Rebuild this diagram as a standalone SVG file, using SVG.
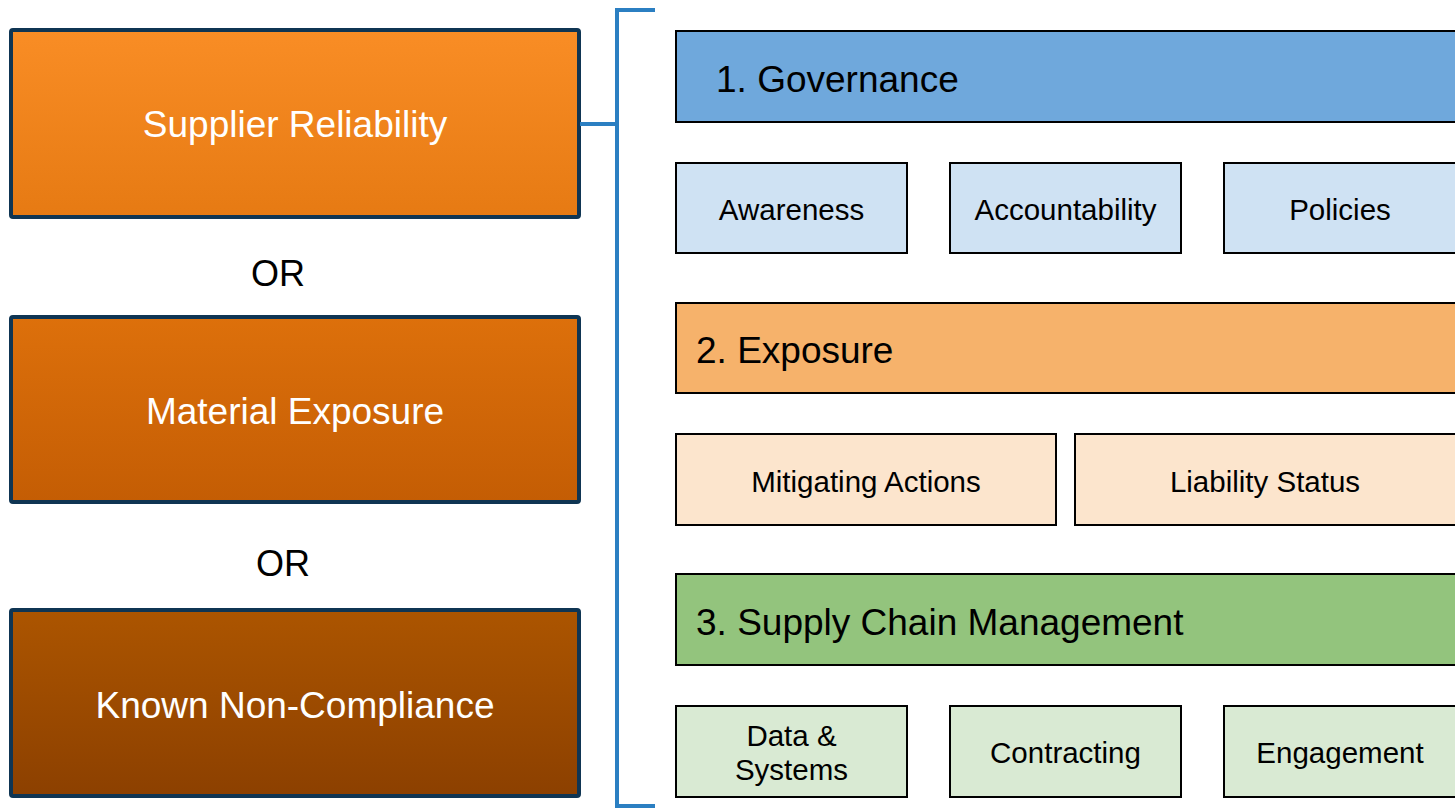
<svg xmlns="http://www.w3.org/2000/svg" width="1455" height="808" viewBox="0 0 1455 808">
<defs>
<linearGradient id="g1" x1="0" y1="0" x2="0" y2="1"><stop offset="0" stop-color="#f98d25"/><stop offset="1" stop-color="#e67a13"/></linearGradient>
<linearGradient id="g2" x1="0" y1="0" x2="0" y2="1"><stop offset="0" stop-color="#dd700b"/><stop offset="1" stop-color="#c45d04"/></linearGradient>
<linearGradient id="g3" x1="0" y1="0" x2="0" y2="1"><stop offset="0" stop-color="#ac5500"/><stop offset="1" stop-color="#8c4000"/></linearGradient>
<style>
text{font-family:"Liberation Sans",Arial,sans-serif;text-anchor:middle}
.lb{stroke:#0f3553;stroke-width:4}
.lt{fill:#fff;font-size:37px}
.or{fill:#000;font-size:36px}
.h rect,.s rect{stroke:#000;stroke-width:2}
.h text{font-size:37px;fill:#000;text-anchor:start}
.s text{font-size:29.5px;fill:#000}
.br{fill:none;stroke:#2b7fc2;stroke-width:4}
</style>
</defs>
<rect width="1455" height="808" fill="#fff"/>
<g id="supplier-reliability"><rect class="lb" x="11" y="30" width="568" height="187" rx="2" fill="url(#g1)"/><text class="lt" x="295" y="137">Supplier Reliability</text></g>
<g id="or1"><text class="or" x="278" y="286">OR</text></g>
<g id="material-exposure"><rect class="lb" x="11" y="317" width="568" height="185" rx="2" fill="url(#g2)"/><text class="lt" x="295" y="424">Material Exposure</text></g>
<g id="or2"><text class="or" x="283" y="576">OR</text></g>
<g id="known-non-compliance"><rect class="lb" x="11" y="610" width="568" height="186" rx="2" fill="url(#g3)"/><text class="lt" x="295" y="718">Known Non-Compliance</text></g>
<g id="connectors">
<path class="br" d="M580 124 H617"/>
<path class="br" d="M655 10 H617 V806 H655"/>
</g>
<g id="governance" class="h"><rect x="676" y="31" width="790" height="91" fill="#6fa8dc"/><text x="716" y="92">1. Governance</text></g>
<g id="awareness" class="s"><rect x="676" y="163" width="231" height="90" fill="#cfe2f3"/><text x="791.5" y="220">Awareness</text></g>
<g id="accountability" class="s"><rect x="950" y="163" width="231" height="90" fill="#cfe2f3"/><text x="1065.5" y="220">Accountability</text></g>
<g id="policies" class="s"><rect x="1224" y="163" width="240" height="90" fill="#cfe2f3"/><text x="1340" y="220">Policies</text></g>
<g id="exposure" class="h"><rect x="676" y="303" width="790" height="90" fill="#f6b26b"/><text x="696" y="363">2. Exposure</text></g>
<g id="mitigating-actions" class="s"><rect x="676" y="434" width="380" height="91" fill="#fce5cd"/><text x="866" y="492">Mitigating Actions</text></g>
<g id="liability-status" class="s"><rect x="1075" y="434" width="390" height="91" fill="#fce5cd"/><text x="1265" y="492">Liability Status</text></g>
<g id="supply-chain-management" class="h"><rect x="676" y="574" width="790" height="91" fill="#93c47d"/><text x="696" y="635">3. Supply Chain Management</text></g>
<g id="data-systems" class="s"><rect x="676" y="706" width="231" height="91" fill="#d9ead3"/><text x="791.5" y="746">Data &amp;</text><text x="791.5" y="780">Systems</text></g>
<g id="contracting" class="s"><rect x="950" y="706" width="231" height="91" fill="#d9ead3"/><text x="1065.5" y="763">Contracting</text></g>
<g id="engagement" class="s"><rect x="1224" y="706" width="240" height="91" fill="#d9ead3"/><text x="1340" y="763">Engagement</text></g>
</svg>
